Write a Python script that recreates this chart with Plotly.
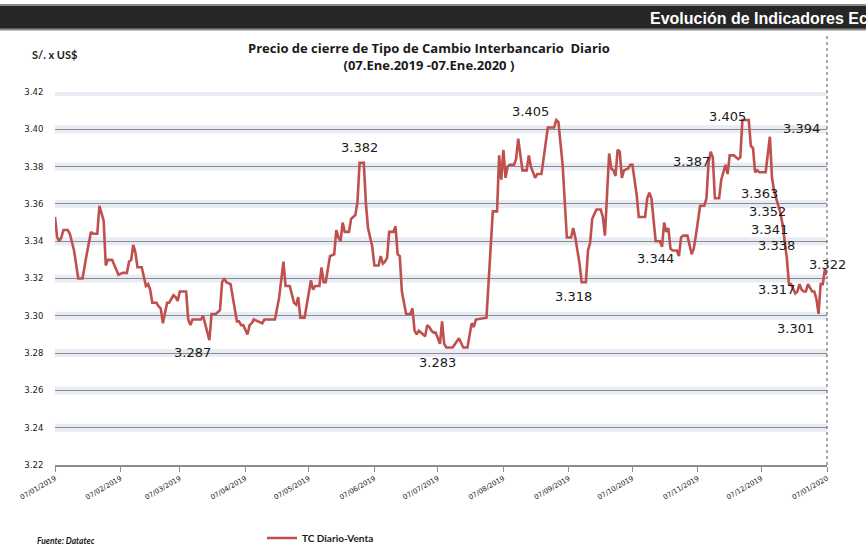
import plotly.graph_objects as go

dates = [
"2019-01-07","2019-01-08","2019-01-09","2019-01-10","2019-01-11","2019-01-13","2019-01-14","2019-01-16","2019-01-18","2019-01-20",
"2019-01-22","2019-01-24","2019-01-25","2019-01-27","2019-01-28","2019-01-30","2019-01-31","2019-02-01","2019-02-03","2019-02-05",
"2019-02-06","2019-02-08","2019-02-10","2019-02-11","2019-02-12","2019-02-13","2019-02-14","2019-02-15","2019-02-17","2019-02-18",
"2019-02-19","2019-02-20","2019-02-21","2019-02-22","2019-02-24","2019-02-25","2019-02-26","2019-02-27","2019-03-01","2019-03-02",
"2019-03-04","2019-03-05","2019-03-06","2019-03-07","2019-03-10","2019-03-11","2019-03-12","2019-03-13","2019-03-17","2019-03-18",
"2019-03-19","2019-03-21","2019-03-22","2019-03-24","2019-03-26","2019-03-27","2019-03-28","2019-03-29","2019-03-31","2019-04-01",
"2019-04-03","2019-04-04","2019-04-05","2019-04-06","2019-04-08","2019-04-09","2019-04-10","2019-04-11","2019-04-13","2019-04-15",
"2019-04-16","2019-04-19","2019-04-21","2019-04-23","2019-04-25","2019-04-26","2019-04-28","2019-04-30","2019-05-01","2019-05-02",
"2019-05-03","2019-05-05","2019-05-07","2019-05-08","2019-05-09","2019-05-10","2019-05-12","2019-05-13","2019-05-14","2019-05-15",
"2019-05-17","2019-05-19","2019-05-20","2019-05-21","2019-05-22","2019-05-23","2019-05-24","2019-05-26","2019-05-27","2019-05-29",
"2019-05-30","2019-05-31","2019-06-02","2019-06-03","2019-06-04","2019-06-06","2019-06-07","2019-06-09","2019-06-10","2019-06-11",
"2019-06-12","2019-06-13","2019-06-14","2019-06-16","2019-06-17","2019-06-18","2019-06-19","2019-06-20","2019-06-22","2019-06-24",
"2019-06-25","2019-06-26","2019-06-27","2019-06-28","2019-06-29","2019-07-01","2019-07-02","2019-07-03","2019-07-04","2019-07-05",
"2019-07-06","2019-07-08","2019-07-09","2019-07-10","2019-07-11","2019-07-14","2019-07-17","2019-07-19","2019-07-21","2019-07-23",
"2019-07-24","2019-07-25","2019-07-30","2019-07-31","2019-08-02","2019-08-04","2019-08-05","2019-08-06","2019-08-07","2019-08-08",
"2019-08-09","2019-08-10","2019-08-12","2019-08-13","2019-08-14","2019-08-16","2019-08-18","2019-08-19","2019-08-20","2019-08-22",
"2019-08-23","2019-08-25","2019-08-27","2019-08-28","2019-08-31","2019-09-01","2019-09-02","2019-09-04","2019-09-06","2019-09-08",
"2019-09-09","2019-09-10","2019-09-12","2019-09-13","2019-09-15","2019-09-16","2019-09-17","2019-09-18","2019-09-20","2019-09-22",
"2019-09-23","2019-09-24","2019-09-26","2019-09-27","2019-09-28","2019-09-29","2019-09-30","2019-10-01","2019-10-02","2019-10-03",
"2019-10-05","2019-10-06","2019-10-07","2019-10-09","2019-10-10","2019-10-11","2019-10-13","2019-10-14","2019-10-15","2019-10-16",
"2019-10-17","2019-10-18","2019-10-20","2019-10-21","2019-10-22","2019-10-23","2019-10-24","2019-10-25","2019-10-26","2019-10-28",
"2019-10-29","2019-10-30","2019-10-31","2019-11-02","2019-11-04","2019-11-05","2019-11-06","2019-11-08","2019-11-10","2019-11-11",
"2019-11-12","2019-11-13","2019-11-14","2019-11-15","2019-11-17","2019-11-18","2019-11-20","2019-11-21","2019-11-22","2019-11-24",
"2019-11-25","2019-11-26","2019-11-27","2019-11-28","2019-12-01","2019-12-02","2019-12-03","2019-12-04","2019-12-05","2019-12-06",
"2019-12-09","2019-12-10","2019-12-11","2019-12-12","2019-12-13","2019-12-14","2019-12-16","2019-12-17","2019-12-18","2019-12-19",
"2019-12-20","2019-12-21","2019-12-23","2019-12-24","2019-12-25","2019-12-26","2019-12-27","2019-12-28","2019-12-29","2019-12-30",
"2019-12-31","2020-01-01","2020-01-02","2020-01-03","2020-01-04","2020-01-05","2020-01-06","2020-01-07"]

tc_venta = [
3.353,3.342,3.340,3.342,3.346,3.346,3.344,3.335,3.320,3.320,
3.333,3.345,3.344,3.344,3.359,3.351,3.327,3.330,3.330,3.325,
3.322,3.323,3.323,3.329,3.330,3.338,3.334,3.326,3.326,3.321,
3.316,3.317,3.314,3.307,3.307,3.305,3.304,3.296,3.307,3.307,
3.311,3.310,3.308,3.313,3.313,3.298,3.295,3.298,3.298,3.300,
3.296,3.287,3.301,3.301,3.303,3.318,3.320,3.318,3.317,3.310,
3.297,3.297,3.295,3.295,3.290,3.295,3.296,3.298,3.297,3.296,
3.298,3.298,3.298,3.310,3.329,3.316,3.316,3.307,3.306,3.310,
3.299,3.299,3.314,3.319,3.314,3.316,3.316,3.326,3.318,3.318,
3.332,3.333,3.346,3.342,3.340,3.350,3.345,3.345,3.352,3.354,
3.361,3.382,3.382,3.360,3.347,3.337,3.327,3.327,3.332,3.328,
3.329,3.331,3.345,3.345,3.348,3.333,3.332,3.313,3.301,3.301,
3.304,3.292,3.290,3.292,3.291,3.289,3.295,3.294,3.292,3.291,
3.291,3.285,3.297,3.285,3.283,3.283,3.288,3.283,3.283,3.296,
3.294,3.298,3.299,3.317,3.356,3.356,3.386,3.373,3.389,3.374,
3.380,3.381,3.381,3.384,3.395,3.378,3.378,3.386,3.380,3.374,
3.376,3.376,3.394,3.401,3.401,3.405,3.404,3.381,3.342,3.342,
3.347,3.342,3.328,3.318,3.318,3.335,3.339,3.352,3.357,3.357,
3.353,3.343,3.387,3.379,3.378,3.375,3.389,3.388,3.374,3.378,
3.379,3.381,3.381,3.365,3.353,3.353,3.353,3.363,3.366,3.363,
3.351,3.340,3.340,3.337,3.350,3.345,3.347,3.336,3.335,3.335,
3.332,3.342,3.343,3.343,3.333,3.336,3.343,3.359,3.359,3.363,
3.382,3.388,3.385,3.363,3.363,3.373,3.381,3.376,3.386,3.386,
3.385,3.384,3.385,3.405,3.405,3.391,3.390,3.377,3.378,3.377,
3.377,3.386,3.396,3.374,3.367,3.363,3.355,3.349,3.340,3.331,
3.317,3.317,3.312,3.313,3.317,3.314,3.313,3.313,3.317,3.315,
3.313,3.313,3.309,3.301,3.317,3.317,3.325,3.322]

label_texts = ["3.287","3.382","3.283","3.405","3.318","3.344","3.387","3.405","3.394",
               "3.363","3.352","3.341","3.338","3.322","3.317","3.301"]
label_dates = ["2019-03-13","2019-05-31","2019-07-07","2019-08-20","2019-09-09","2019-10-18",
               "2019-11-04","2019-11-21","2019-12-26","2019-12-06","2019-12-10","2019-12-11",
               "2019-12-14","2020-01-07","2019-12-14","2019-12-23"]
label_values = [3.2801,3.3905,3.2749,3.4094,3.3103,3.3309,3.3825,3.4071,3.4005,
                3.3657,3.3558,3.3464,3.3376,3.3273,3.3139,3.2933]

tick_dates = ["2019-01-07","2019-02-07","2019-03-07","2019-04-07","2019-05-07","2019-06-07",
              "2019-07-07","2019-08-07","2019-09-07","2019-10-07","2019-11-07","2019-12-07","2020-01-07"]
y_ticks = [3.22,3.24,3.26,3.28,3.30,3.32,3.34,3.36,3.38,3.40,3.42]

W, H = 866, 550
ML, MR, MT, MB = 55, 39, 92, 85
PW, PH = W - ML - MR, H - MT - MB

def px(X):
    return (X - ML) / PW

def py(Y):
    return (H - MB - Y) / PH

fig = go.Figure()
fig.add_trace(go.Scatter(x=dates, y=tc_venta, mode="lines", name="TC Diario-Venta",
                         line=dict(color="#C0504D", width=2.6)))

shapes = []
# soft glow under gridlines
for v in y_ticks[1:]:
    shapes.append(dict(type="line", xref="paper", yref="y", x0=0, x1=1, y0=v, y1=v,
                       line=dict(color="rgba(214,222,236,0.55)", width=8), layer="below"))
# header bar
shapes.append(dict(type="rect", xref="paper", yref="paper", x0=px(-20), x1=px(900),
                   y0=py(29.5), y1=py(5), fillcolor="#262626",
                   line=dict(color="#8a8a8a", width=2)))
# dotted right border
shapes.append(dict(type="line", xref="paper", yref="paper", x0=1, x1=1, y0=0, y1=py(35),
                   line=dict(color="#555555", width=1, dash="dot")))

annotations = []
for t, d, v in zip(label_texts, label_dates, label_values):
    annotations.append(dict(x=d, y=v, xref="x", yref="y", text=t, showarrow=False,
                            font=dict(family="DejaVu Sans, Verdana", size=13, color="#1a1a1a"),
                            xanchor="center", yanchor="middle"))

annotations += [
    dict(x=px(648), y=py(18), xref="paper", yref="paper", xanchor="left", yanchor="middle",
         text="<b>Evolución de Indicadores Económicos</b>", showarrow=False,
         font=dict(family="Liberation Sans, Arial", size=16, color="white")),
    dict(x=px(30), y=py(55), xref="paper", yref="paper", xanchor="left", yanchor="middle",
         text="<b>S/. x US$</b>", showarrow=False,
         font=dict(family="Lato, Open Sans", size=11, color="#1a1a1a")),
    dict(x=px(429), y=py(57), xref="paper", yref="paper", xanchor="center", yanchor="middle",
         text="<b>Precio de cierre de Tipo de Cambio Interbancario  Diario<br>(07.Ene.2019 -07.Ene.2020 )</b>",
         showarrow=False, align="center",
         font=dict(family="Open Sans, Lato", size=13, color="#1a1a1a")),
    dict(x=px(35), y=py(541), xref="paper", yref="paper", xanchor="left", yanchor="middle",
         text="<b><i>Fuente: Datatec</i></b>", showarrow=False,
         font=dict(family="Lato, Open Sans", size=8.5, color="#1a1a1a")),
]

fig.update_layout(
    width=W, height=H,
    margin=dict(l=ML, r=MR, t=MT, b=MB, autoexpand=False),
    paper_bgcolor="white", plot_bgcolor="white",
    shapes=shapes, annotations=annotations,
    showlegend=True,
    legend=dict(orientation="h", x=px(262), y=py(538), xanchor="left", yanchor="middle",
                font=dict(family="Lato, Open Sans", size=10, color="#1a1a1a", weight="bold"),
                bgcolor="rgba(0,0,0,0)", itemwidth=30),
    xaxis=dict(type="date", range=["2019-01-07", "2020-01-07"], tickvals=tick_dates,
               tickformat="%d/%m/%Y", tickangle=-30, showgrid=False,
               showline=True, linecolor="#8c8c8c", linewidth=1.5,
               ticks="outside", ticklen=5, tickcolor="#8c8c8c",
               tickfont=dict(family="DejaVu Sans, Verdana", size=7, color="#1a1a1a")),
    yaxis=dict(range=[3.22, 3.42], tickvals=y_ticks, tickformat=".2f",
               showgrid=True, gridcolor="#8c8c8c", gridwidth=1.4, zeroline=False,
               showline=False, ticks="outside", ticklen=9, tickcolor="rgba(0,0,0,0)",
               tickfont=dict(family="DejaVu Sans, Verdana", size=8.5, color="#1a1a1a")),
)

fig.write_html("out.html", config={"displayModeBar": False},
               post_script="document.body.style.margin='0px';document.body.style.overflow='hidden';")
